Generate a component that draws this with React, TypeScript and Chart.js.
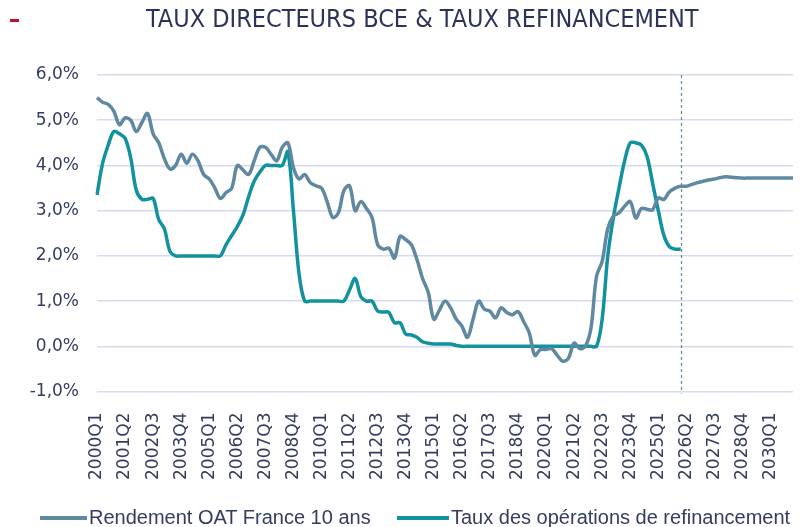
import React, { useEffect, useRef } from "react";
import { Chart, registerables } from "chart.js";

Chart.register(...registerables);

const YEARS = [2000, 2001, 2002, 2003, 2004, 2005, 2006, 2007, 2008, 2009, 2010, 2011, 2012, 2013, 2014, 2015, 2016, 2017, 2018, 2019, 2020, 2021, 2022, 2023, 2024, 2025, 2026, 2027, 2028, 2029, 2030, 2031];
const QUARTERS = ["Q1", "Q2", "Q3", "Q4"];
const CATEGORIES: string[] = [];
YEARS.forEach((y) => QUARTERS.forEach((q) => CATEGORIES.push(`${y}${q}`)));
CATEGORIES.splice(125);

const OAT_10Y = [
  5.5, 5.4, 5.35, 5.2, 4.9, 5.05, 5.0, 4.75, 4.95, 5.15,
  4.7, 4.5, 4.15, 3.92, 4.0, 4.25, 4.05, 4.25, 4.1, 3.8,
  3.7, 3.5, 3.27, 3.4, 3.5, 4.0, 3.9, 3.8, 4.1, 4.4,
  4.4, 4.25, 4.1, 4.4, 4.5, 3.95, 3.7, 3.8, 3.62, 3.55,
  3.5, 3.2, 2.85, 2.95, 3.45, 3.55, 3.0, 3.2, 3.05, 2.85,
  2.25, 2.15, 2.17, 1.95, 2.43, 2.36, 2.25, 1.92, 1.5, 1.2,
  0.6, 0.8, 1.0, 0.85, 0.6, 0.45, 0.2, 0.6, 1.0, 0.82,
  0.78, 0.63, 0.85, 0.75, 0.7, 0.77, 0.55, 0.3, -0.2, -0.07,
  -0.07, -0.05, -0.2, -0.33, -0.26, 0.07, -0.05, 0.0, 0.4, 1.55,
  1.88, 2.6, 2.88, 2.95, 3.1, 3.2, 2.84, 3.05, 3.03, 3.02,
  3.28, 3.25, 3.42, 3.5, 3.54, 3.54, 3.58, 3.62, 3.65, 3.68,
  3.7, 3.73, 3.75, 3.74, 3.73, 3.72, 3.72, 3.72, 3.72, 3.72,
  3.72, 3.72, 3.72, 3.72, 3.72,
];

const REFI_RATE = [
  3.35, 4.05, 4.45, 4.75, 4.7, 4.6, 4.17, 3.45, 3.25, 3.25,
  3.27, 2.8, 2.6, 2.1, 2.0, 2.0, 2.0, 2.0, 2.0, 2.0,
  2.0, 2.0, 2.0, 2.25, 2.45, 2.65, 2.9, 3.3, 3.65, 3.85,
  4.0, 4.0, 4.0, 4.0, 4.3, 3.0, 1.6, 1.0, 1.0, 1.0,
  1.0, 1.0, 1.0, 1.0, 1.0, 1.25, 1.5, 1.1, 1.0, 1.0,
  0.78, 0.76, 0.75, 0.52, 0.52, 0.27, 0.25, 0.2, 0.1, 0.07,
  0.05, 0.05, 0.05, 0.05, 0.02, 0.0, 0.0, 0.0, 0.0, 0.0,
  0.0, 0.0, 0.0, 0.0, 0.0, 0.0, 0.0, 0.0, 0.0, 0.0,
  0.0, 0.0, 0.0, 0.0, 0.0, 0.0, 0.0, 0.0, 0.0, 0.0,
  0.6, 2.0, 2.85, 3.5, 4.1, 4.5, 4.5, 4.45, 4.2, 3.6,
  3.0, 2.45, 2.2, 2.15, 2.15,
];

const PROJECTION_START = "2026Q1";
const SERIES_NAMES = ["Rendement OAT France 10 ans", "Taux des opérations de refinancement"];
const TITLE = "TAUX DIRECTEURS BCE & TAUX REFINANCEMENT";

const OAT_COLOR = "#5f88a1";
const REFI_COLOR = "#12919f";
const TEXT_COLOR = "#343d60";

const dashedLinePlugin = {
  id: "projLine",
  afterDatasetsDraw(chart: any) {
    const { ctx, chartArea, scales } = chart;
    const x = scales.x.getPixelForValue(CATEGORIES.indexOf(PROJECTION_START));
    ctx.save();
    ctx.strokeStyle = OAT_COLOR;
    ctx.lineWidth = 1.2;
    ctx.setLineDash([3, 3]);
    ctx.beginPath();
    ctx.moveTo(Math.round(x) + 0.5, chartArea.top);
    ctx.lineTo(Math.round(x) + 0.5, chartArea.bottom + 2);
    ctx.stroke();
    ctx.restore();
  },
};

export default function App() {
  const ref = useRef<HTMLCanvasElement>(null);
  useEffect(() => {
    const chart = new Chart(ref.current!, {
      type: "line",
      data: {
        labels: CATEGORIES,
        datasets: [
          {
            label: SERIES_NAMES[0],
            data: OAT_10Y,
            borderColor: OAT_COLOR,
            backgroundColor: OAT_COLOR,
            borderWidth: 3.5,
            pointRadius: 0,
            tension: 0.35,
          },
          {
            label: SERIES_NAMES[1],
            data: REFI_RATE,
            borderColor: REFI_COLOR,
            backgroundColor: REFI_COLOR,
            borderWidth: 3.5,
            pointRadius: 0,
            tension: 0.35,
          },
        ],
      },
      options: {
        animation: false,
        responsive: false,
        layout: { padding: { left: 0, right: 8, top: 75, bottom: 34 } },
        plugins: {
          title: { display: false },
          legend: { display: false },
          tooltip: { enabled: false },
        },
        scales: {
          x: {
            grid: { display: false },
            border: { display: false },
            afterFit: (s: any) => {
              s.paddingRight = 0;
              s.paddingLeft = 0;
            },
            ticks: {
              autoSkip: false,
              minRotation: 90,
              maxRotation: 90,
              padding: 13,
              color: TEXT_COLOR,
              font: { family: "'DejaVu Sans', sans-serif", size: 17 },
              callback: (_v: any, i: number) => (i % 5 === 0 ? CATEGORIES[i] : ""),
            },
          },
          y: {
            min: -1,
            max: 6,
            border: { display: false },
            grid: { color: "#d6daf2", lineWidth: 1.5, drawTicks: false },
            afterFit: (s: any) => {
              s.width = 97;
            },
            ticks: {
              stepSize: 1,
              padding: 18,
              color: TEXT_COLOR,
              font: { family: "'DejaVu Sans', sans-serif", size: 17 },
              callback: (v: any) => Number(v).toFixed(1).replace(".", ",") + "%",
            },
          },
        },
      },
      plugins: [dashedLinePlugin],
    });
    return () => chart.destroy();
  }, []);

  const legendText: React.CSSProperties = {
    position: "absolute",
    top: 505,
    fontFamily: "'Liberation Sans', sans-serif",
    fontSize: 20,
    lineHeight: "24px",
    color: TEXT_COLOR,
    whiteSpace: "nowrap",
  };
  return (
    <div style={{ position: "fixed", left: 0, top: 0, width: 801, height: 527, background: "#fff", overflow: "hidden" }}>
      <div style={{ position: "absolute", left: 10, top: 19, width: 9, height: 3, background: "#c8102e" }} />
      <div
        style={{
          position: "absolute",
          left: 146,
          top: 2,
          fontFamily: "'DejaVu Sans Condensed', 'Liberation Sans Narrow', sans-serif",
          fontSize: 25,
          lineHeight: "34px",
          color: "#2b3358",
          whiteSpace: "nowrap",
        }}
      >
        {TITLE}
      </div>
      <canvas ref={ref} width={801} height={527} style={{ display: "block" }} />
      <div style={{ position: "absolute", left: 40, top: 516, width: 47, height: 4, background: OAT_COLOR }} />
      <div style={{ ...legendText, left: 89 }}>{SERIES_NAMES[0]}</div>
      <div style={{ position: "absolute", left: 397, top: 516, width: 52, height: 4, background: REFI_COLOR }} />
      <div style={{ ...legendText, left: 451 }}>{SERIES_NAMES[1]}</div>
    </div>
  );
}
